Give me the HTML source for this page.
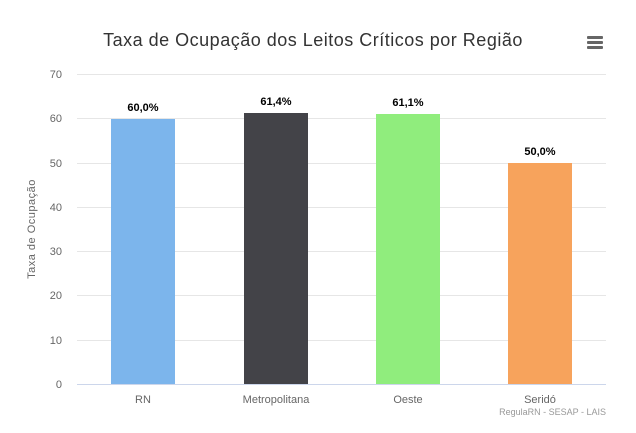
<!DOCTYPE html>
<html><head><meta charset="utf-8"><style>
html,body{margin:0;padding:0;background:#fff;}
svg{display:block;font-family:"Liberation Sans",sans-serif;}
</style></head><body>
<svg width="636" height="433" viewBox="0 0 636 433" xmlns="http://www.w3.org/2000/svg">
<rect width="636" height="433" fill="#fff"/>
<text x="313" y="46" text-anchor="middle" font-size="18" fill="#333" letter-spacing="0.5">Taxa de Ocupação dos Leitos Críticos por Região</text>
<g fill="#666"><rect x="587" y="36" width="16" height="3" rx="1"/><rect x="587" y="41" width="16" height="3" rx="1"/><rect x="587" y="46" width="16" height="3" rx="1"/></g>
<g stroke="#e6e6e6" stroke-width="1">
<line x1="77" x2="606" y1="74.5" y2="74.5"/><line x1="77" x2="606" y1="118.5" y2="118.5"/><line x1="77" x2="606" y1="163.5" y2="163.5"/><line x1="77" x2="606" y1="207.5" y2="207.5"/><line x1="77" x2="606" y1="251.5" y2="251.5"/><line x1="77" x2="606" y1="295.5" y2="295.5"/><line x1="77" x2="606" y1="340.5" y2="340.5"/>
</g>
<line x1="77" x2="606" y1="384.5" y2="384.5" stroke="#ccd6eb"/>
<g font-size="11" fill="#666" text-anchor="end">
<text x="62" y="78">70</text><text x="62" y="122">60</text><text x="62" y="167">50</text><text x="62" y="211">40</text><text x="62" y="255">30</text><text x="62" y="299">20</text><text x="62" y="344">10</text><text x="62" y="388">0</text>
</g>
<text transform="translate(35,229) rotate(-90)" text-anchor="middle" font-size="11" fill="#666" letter-spacing="0.5">Taxa de Ocupação</text>
<rect x="111" y="119" width="64" height="265" fill="#7cb5ec"/>
<rect x="244" y="113" width="64" height="271" fill="#434348"/>
<rect x="376" y="114" width="64" height="270" fill="#90ed7d"/>
<rect x="508" y="163" width="64" height="221" fill="#f7a35c"/>
<g font-size="11" font-weight="bold" fill="#000" text-anchor="middle">
<text x="143" y="111">60,0%</text><text x="276" y="105">61,4%</text><text x="408" y="106">61,1%</text><text x="540" y="155">50,0%</text>
</g>
<g font-size="11" fill="#666" text-anchor="middle">
<text x="143" y="403">RN</text><text x="276" y="403">Metropolitana</text><text x="408" y="403">Oeste</text><text x="540" y="403">Seridó</text>
</g>
<text x="606" y="415" text-anchor="end" font-size="9" fill="#999">RegulaRN - SESAP - LAIS</text>
</svg>
</body></html>
